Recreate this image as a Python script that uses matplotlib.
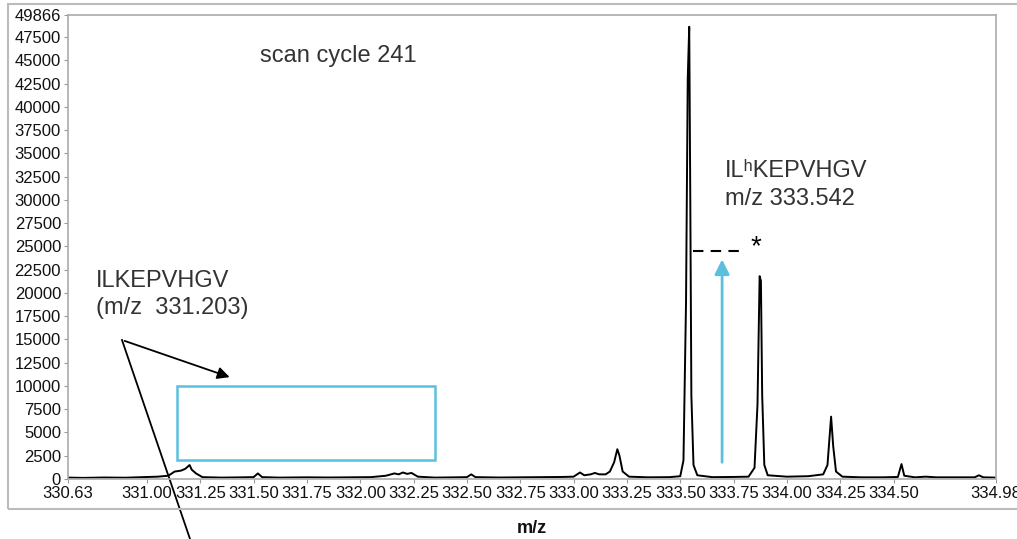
import matplotlib.pyplot as plt
from matplotlib.patches import Rectangle

plt.rcParams['font.family'] = ['Liberation Sans', 'DejaVu Sans']

# spectrum profile (m/z, intensity)
mz = [330.63, 330.70, 330.80, 330.90, 330.98, 331.05, 331.10, 331.13, 331.16, 331.18,
      331.20, 331.21, 331.23, 331.26, 331.35, 331.45, 331.50, 331.52, 331.54, 331.62,
      331.75, 331.85, 331.95, 332.05, 332.12, 332.16, 332.18, 332.20, 332.22, 332.24,
      332.27, 332.35, 332.45, 332.50, 332.52, 332.54, 332.65, 332.75, 332.85, 332.95,
      333.00, 333.03, 333.05, 333.08, 333.10, 333.12, 333.15, 333.17, 333.19, 333.205,
      333.215, 333.23, 333.26, 333.35, 333.45, 333.50, 333.515, 333.527, 333.535, 333.542,
      333.547, 333.552, 333.562, 333.58, 333.65, 333.75, 333.82, 333.848, 333.862, 333.872,
      333.878, 333.884, 333.894, 333.91, 334.00, 334.10, 334.17, 334.19, 334.207, 334.217,
      334.23, 334.26, 334.35, 334.45, 334.52, 334.537, 334.55, 334.60, 334.65, 334.70,
      334.80, 334.88, 334.90, 334.92, 334.98]
intensity = [150, 120, 160, 140, 200, 250, 350, 800, 900, 1100,
             1500, 1000, 600, 200, 150, 180, 200, 600, 200, 150,
             180, 160, 180, 200, 350, 600, 500, 700, 550, 650,
             250, 150, 180, 200, 500, 200, 160, 180, 200, 220,
             250, 700, 400, 500, 650, 500, 500, 800, 1800, 3200,
             2500, 800, 250, 180, 200, 300, 2000, 19000, 43000, 48600,
             30000, 9000, 1500, 400, 200, 220, 250, 1200, 8000, 21800,
             21300, 9000, 1500, 400, 250, 300, 500, 1500, 6700, 3500,
             800, 250, 180, 180, 220, 1600, 350, 180, 250, 180,
             180, 180, 400, 180, 150]

yticks = [0, 2500, 5000, 7500, 10000, 12500, 15000, 17500, 20000, 22500, 25000,
          27500, 30000, 32500, 35000, 37500, 40000, 42500, 45000, 47500, 49866]
xticks = [330.63, 331.00, 331.25, 331.50, 331.75, 332.00, 332.25, 332.50, 332.75,
          333.00, 333.25, 333.50, 333.75, 334.00, 334.25, 334.50, 334.98]

fig = plt.figure(figsize=(10.17, 5.39), dpi=100)
ax = fig.add_axes([68/1017, 60/539, 928/1017, 464/539])

ax.plot(mz, intensity, color='black', lw=1.4)
ax.set_xlim(330.63, 334.98)
ax.set_ylim(0, 49866)
ax.set_yticks(yticks)
ax.set_yticklabels([str(t) for t in yticks])
ax.set_xticks(xticks)
ax.set_xticklabels(['%.2f' % t for t in xticks])
ax.tick_params(labelsize=12, length=3, color='#999999', labelcolor='#111111', pad=2)
for s in ax.spines.values():
    s.set_color('#aaaaaa')
    s.set_linewidth(1.2)
ax.set_xlabel('m/z', fontsize=13, fontweight='bold', color='#111111', labelpad=14)

# outer frame
fig.add_artist(Rectangle((8/1017, 30/539), 1.05, 505/539, transform=fig.transFigure,
                         fill=False, edgecolor='#bbbbbb', lw=1.5))

tc = '#333333'
ax.text(331.53, 45500, 'scan cycle 241', fontsize=17, color=tc, va='center')
ax.text(333.71, 31600, 'ILʰKEPVHGV\nm/z 333.542', fontsize=17, color=tc,
        va='center', linespacing=1.3)
ax.text(330.76, 19800, 'ILKEPVHGV\n(m/z  331.203)', fontsize=17, color=tc,
        va='center', linespacing=1.3)

# pointers
ax.annotate('', xy=(331.40, 10850), xytext=(330.883, 14940),
            arrowprops=dict(arrowstyle='-|>', color='black', lw=1.3, mutation_scale=18))
ax.plot([330.883, 331.202], [14940, -6450], color='black', lw=1.3, clip_on=False)
ax.add_patch(Rectangle((331.14, 2040), 1.21, 7960, fill=False, edgecolor='#5bc0de', lw=1.8))
ax.annotate('', xy=(333.696, 23900), xytext=(333.696, 1500),
            arrowprops=dict(arrowstyle='-|>', color='#5bc0de', lw=2, mutation_scale=22))
ax.plot([333.56, 333.80], [24500, 24500], color='black', lw=1.5, ls=(0, (5, 3.5)))
ax.text(333.83, 24900, '*', fontsize=20, color='black', va='center')

plt.savefig('out.png', dpi=100)
